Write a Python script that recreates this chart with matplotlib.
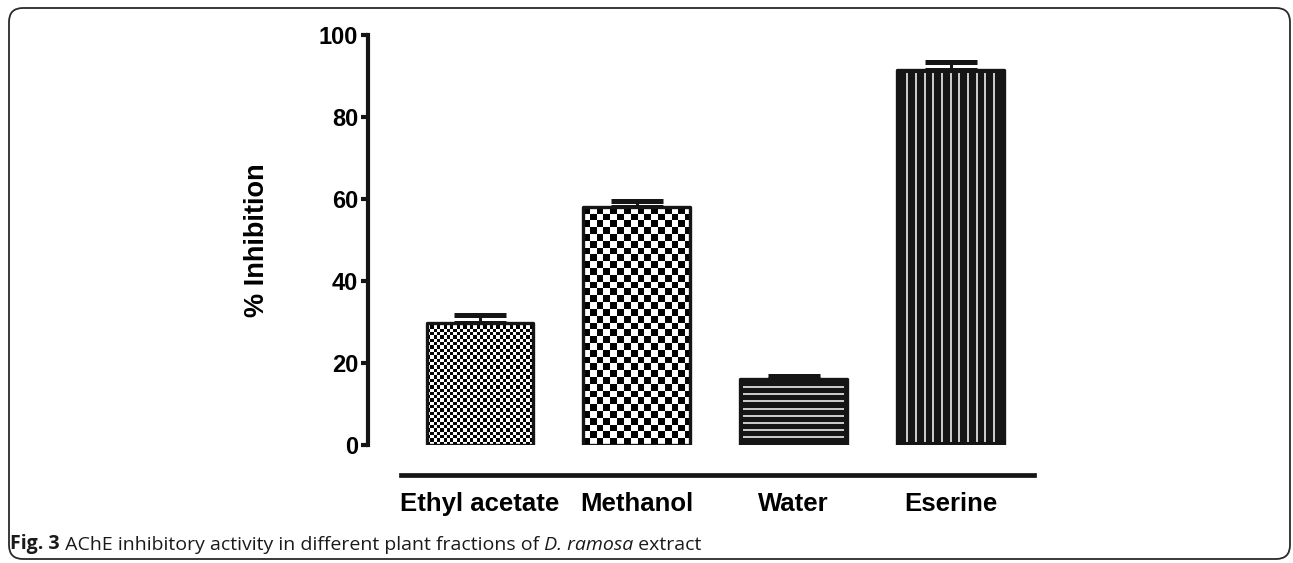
import matplotlib.pyplot as plt
import numpy as np
from matplotlib.patches import FancyBboxPatch
from matplotlib.transforms import IdentityTransform

# Dados
categorias = ["Ethyl acetate", "Methanol", "Water", "Eserine"]
inibicao = [29.8, 58.0, 16.0, 91.4]
erro = [1.8, 1.5, 0.8, 1.9]
yticks = [0, 20, 40, 60, 80, 100]

plt.rcParams["font.family"] = ["Liberation Sans", "DejaVu Sans"]

fig = plt.figure(figsize=(12.93, 5.63), dpi=100)
fig.patch.set_facecolor("white")

# eixo posicionado em pixels
ax_l, ax_b, ax_w, ax_h = 368, 118, 669, 410
ax = fig.add_axes([ax_l / 1293, ax_b / 563, ax_w / 1293, ax_h / 563])
xmin, xmax = -0.713, 3.55
ax.set_xlim(xmin, xmax)
ax.set_ylim(0, 100)
px_x = ax_w / (xmax - xmin)
px_y = ax_h / 100

cor = "#151515"
x = np.arange(len(categorias))
faces = ["none", "none", cor, cor]
barras = ax.bar(x, inibicao, width=0.68, color=faces, edgecolor=cor,
                linewidth=2.4, zorder=4, joinstyle="round")
ax.errorbar(x, inibicao, yerr=[np.zeros(len(erro)), erro], fmt="none",
            ecolor=cor, elinewidth=2.2, capsize=19, capthick=3.6, zorder=2)


def xadrez(barra, celula_px):
    x0, w, h = barra.get_x(), barra.get_width(), barra.get_height()
    cx, cy = celula_px / px_x, celula_px / px_y
    nx, ny = int(np.ceil(w / cx)), int(np.ceil(h / cy))
    img = np.add.outer(np.arange(ny), np.arange(nx)) % 2
    im = ax.imshow(img, cmap="gray", extent=(x0, x0 + nx * cx, 0, ny * cy),
                   origin="lower", interpolation="nearest", aspect="auto",
                   vmin=0, vmax=1, zorder=3)
    im.set_clip_path(barra)


def listras(barra, n, passo_px, vertical):
    x0, w, h = barra.get_x(), barra.get_width(), barra.get_height()
    if vertical:
        meio = x0 + w / 2
        pos = meio + (np.arange(n) - (n - 1) / 2) * passo_px / px_x
        ax.vlines(pos, 3 / px_y, h - 3 / px_y, colors="white", linewidth=1.1, zorder=5)
    else:
        meio = h / 2
        pos = meio + (np.arange(n) - (n - 1) / 2) * passo_px / px_y
        ax.hlines(pos, x0 + 3 / px_x, x0 + w - 3 / px_x, colors="white",
                  linewidth=1.1, zorder=5)


xadrez(barras[0], 3.3)
xadrez(barras[1], 6.8)
listras(barras[2], 8, 7.2, vertical=False)
listras(barras[3], 11, 8.7, vertical=True)

# eixos no estilo GraphPad
for lado in ["top", "right"]:
    ax.spines[lado].set_visible(False)
ax.spines["left"].set_linewidth(3)
ax.spines["left"].set_color(cor)
ax.spines["left"].set_bounds(0, 100)
ax.spines["left"].set_capstyle("projecting")
ax.spines["bottom"].set_linewidth(3.4)
ax.spines["bottom"].set_color(cor)
ax.spines["bottom"].set_position(("outward", 21.6))
ax.spines["bottom"].set_bounds(-0.5, 3.53)

ax.set_yticks(yticks)
ax.tick_params(axis="y", direction="out", length=5, width=3, color=cor,
               labelsize=17, pad=2)
ax.set_xticks(x)
ax.set_xticklabels(categorias)
ax.tick_params(axis="x", length=0, labelsize=18.5, pad=12)
for t in ax.get_xticklabels() + ax.get_yticklabels():
    t.set_fontweight("bold")

ax.set_ylabel("% Inhibition", fontsize=19.5, fontweight="bold")
ax.yaxis.set_label_coords((270 - ax_l) / ax_w, 0.5)

# moldura arredondada
moldura = FancyBboxPatch((9, 4), 1281, 551, boxstyle="round,pad=0,rounding_size=14",
                         transform=IdentityTransform(), facecolor="none",
                         edgecolor="#2a2a2a", linewidth=1.3)
fig.patches.append(moldura)

# legenda da figura
fam = ["Open Sans", "DejaVu Sans"]
t1 = fig.text(10 / 1293, 9 / 563, "Fig. 3", fontsize=14, fontweight="bold",
              family=fam, color="#1a1a1a", va="bottom")
partes = [(" AChE inhibitory activity in different plant fractions of", "normal"),
          (" D. ramosa", "italic"), (" extract", "normal")]
ant = t1
for texto, estilo in partes:
    ant = fig.add_artist(plt.Annotation(texto, xy=(1, 0), xycoords=ant, va="bottom",
                                        fontsize=14, style=estilo, family=fam,
                                        color="#1a1a1a"))

fig.savefig("out.png", dpi=100)
